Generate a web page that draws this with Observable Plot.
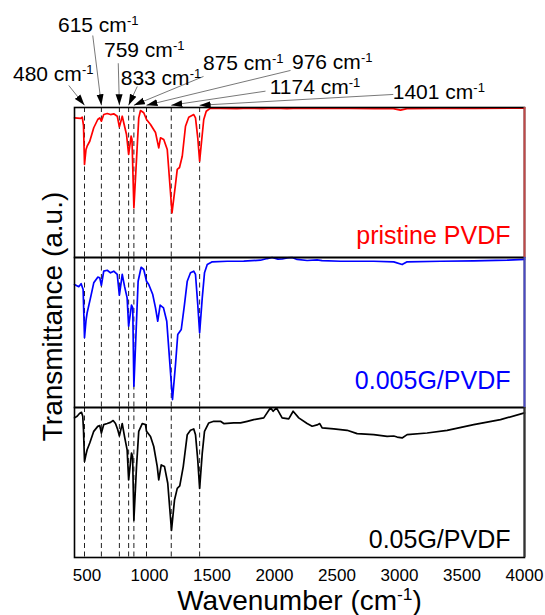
<!DOCTYPE html>
<html><head><meta charset="utf-8">
<script src="https://cdn.jsdelivr.net/npm/d3@7"></script>
<script src="https://cdn.jsdelivr.net/npm/@observablehq/plot@0.6"></script>
<style>
body{margin:0;background:#fff;}
#chart svg{display:block;}
</style>
</head><body><div id="chart"></div>
<script>
// ---------- data ----------
const panels = ["pristine PVDF", "0.005G/PVDF", "0.05G/PVDF"];
const seriesColors = ["#ff0000", "#0000ff", "#000000"];
const edgeColors = ["#c04848", "#4a4ac4", "#333333"];

// [wavenumber (cm-1), transmittance (a.u., % of panel)]
const pristine = [[400,93.1],[448,92.7],[462,93.5],[472,88],[480,62],[492,72],[501,74.2],[522,77.5],[554,86.5],[586,92],[602,93.1],[615,90.9],[634,95.3],[662,96],[688,95.3],[714,95.8],[742,94.2],[759,87.1],[782,94.2],[794,89.8],[816,82],[833,68.7],[853,80.9],[860,78.7],[875,33.1],[896,65.3],[914,93.1],[928,98],[954,96.5],[976,92],[1008,88.7],[1048,83.3],[1074,73.1],[1088,79.8],[1114,78.7],[1142,72],[1180,29.8],[1208,48.7],[1222,58.7],[1240,60],[1262,67.5],[1288,87.5],[1314,93.5],[1354,95.3],[1368,93.1],[1386,79.8],[1401,64.2],[1422,82],[1434,92],[1454,97.5],[1488,99.6],[1568,99.4],[1700,99.3],[1800,99.6],[1900,99.2],[2000,99.5],[2100,99.3],[2200,99.5],[2400,99.4],[2600,99.4],[2800,99.3],[2950,99.2],[3008,98.2],[3060,99.2],[3300,99.4],[3600,99.4],[3900,99.5],[4000,99.6]];
const g005 = [[400,82],[434,80.5],[453,82.5],[469,78.7],[480,46.5],[492,58],[501,63.1],[528,73.1],[554,83.1],[586,86.9],[602,86.5],[615,81.5],[634,90.9],[662,91.5],[688,89.8],[714,90.9],[742,88.7],[759,74.9],[782,88.7],[800,80.9],[821,73.1],[833,54.2],[856,68.2],[866,66.4],[875,14.2],[896,57.5],[909,84.2],[933,93.5],[954,92],[976,84.2],[994,82],[1026,75.3],[1048,66.4],[1066,57.5],[1085,68.2],[1112,66.4],[1138,57.5],[1184,5.3],[1208,28.7],[1226,48.7],[1254,52],[1280,68.7],[1302,84.2],[1328,89.8],[1354,90.9],[1368,88.7],[1386,68.7],[1401,49.8],[1422,73.1],[1440,89.8],[1462,95.3],[1502,97.1],[1622,97.5],[1754,97.6],[1888,98.2],[1941,99.3],[1981,100],[2027,98.9],[2061,99],[2101,99.8],[2141,100],[2181,98.7],[2261,98],[2341,98.4],[2381,97.9],[2528,97.5],[2794,97.5],[2954,97.1],[3021,95.3],[3061,97.1],[3328,97.5],[3594,97.8],[3861,98.2],[4000,98.7]];
const g05 = [[400,93.1],[421,94.2],[440,96],[456,96.8],[466,94.2],[472,85],[480,64],[490,68],[501,71.8],[522,76.3],[554,84.1],[586,87.4],[602,87.9],[615,83],[634,88.6],[662,89.3],[688,90.1],[709,91.3],[728,89.3],[746,85.2],[759,81.2],[782,89.3],[800,80.7],[821,71.8],[833,51.7],[856,69.6],[865,67.3],[875,24.8],[896,60.6],[914,84.1],[942,89.3],[968,88.6],[976,84.1],[1008,80.7],[1034,74],[1062,60.6],[1074,51.7],[1094,61.7],[1120,60.6],[1146,49.5],[1176,18.1],[1200,38.3],[1222,46.1],[1242,47.7],[1270,60.6],[1302,81.9],[1328,84.8],[1354,85.7],[1368,81.9],[1386,65.1],[1401,46.1],[1422,69.6],[1440,84.1],[1474,89.7],[1514,90.8],[1568,90.8],[1594,89.3],[1674,89.7],[1728,89.7],[1782,90.8],[1834,91.9],[1914,93.1],[1968,99.8],[1989,97.5],[2016,99.8],[2061,93.1],[2114,92.4],[2149,97.5],[2194,93.1],[2261,89.3],[2301,87.5],[2341,88.4],[2362,89.3],[2381,86.4],[2474,85.7],[2581,84.8],[2661,82.6],[2794,81.9],[2901,80.7],[2954,81],[2981,80.3],[3021,79.7],[3061,81.9],[3221,83],[3381,84.8],[3594,88.6],[3808,91.9],[4000,96.4]];

const peaks = [480, 615, 759, 833, 875, 976, 1174, 1401];
const peakLabels = ["480 cm-1", "615 cm-1", "759 cm-1", "833 cm-1", "875 cm-1", "976 cm-1", "1174 cm-1", "1401 cm-1"];
const xTicks = [500, 1000, 1500, 2000, 2500, 3000, 3500, 4000];

// annotation layout, in the top panel's data units
const labelX = [-92, 268, 636, 770, 1428, 2140, 1962, 2946];
const labelY = [118, 150.2, 134, 115.1, 124.7, 125.8, 108.7, 105.8];
const arrowFromX = [354, 546, 750, 902, 1432, 2128, 1928, 2950];
const arrowFromY = [114.7, 148, 129.5, 114, 120.7, 124.7, 110.9, 108.7];
const arrowTipY = 101.5;

// ---------- tables ----------
const rows = [];
[pristine, g005, g05].forEach((s, i) => s.forEach(([w, t]) => rows.push({panel: panels[i], w, t})));
const annot = peaks.map((p, i) => ({panel: panels[0], peak: p, label: peakLabels[i],
  lx: labelX[i], ly: labelY[i], sx: arrowFromX[i], sy: arrowFromY[i], ty: arrowTipY}));

const FONT = "'Liberation Sans', Arial, sans-serif";
const labelDy = [-14, -19, -10];

const chart = Plot.plot({
  width: 545, height: 615,
  marginLeft: 74, marginRight: 21, marginTop: 107, marginBottom: 58,
  style: {fontFamily: FONT, fontSize: "17px", background: "#fff", overflow: "visible", color: "#000"},
  x: {domain: [400, 4000], ticks: xTicks, tickSize: 0, tickPadding: 11, tickFormat: d => String(d), label: null},
  y: {domain: [0, 100], axis: null},
  fy: {domain: panels, axis: null, padding: 0},
  marks: [
    Plot.ruleX(peaks, {stroke: "#222", strokeWidth: 1, strokeDasharray: "5,3.5"}),
    ...panels.map((p, i) => Plot.line(rows.filter(r => r.panel === p),
      {x: "w", y: "t", fy: "panel", stroke: seriesColors[i], strokeWidth: 1.7, curve: "linear"})),
    Plot.frame({stroke: "#000", strokeWidth: 1.6}),
    ...panels.map((p, i) => Plot.ruleX([{panel: p}], {x: () => 4000, fy: "panel", stroke: edgeColors[i], strokeWidth: 2})),
    ...panels.map((p, i) => Plot.text([{panel: p}], {fy: "panel", frameAnchor: "bottom-right", text: "panel",
      fill: seriesColors[i], fontSize: 25, textAnchor: "end", lineAnchor: "bottom", dx: -14, dy: labelDy[i]})),
    Plot.link(annot, {x1: "sx", y1: "sy", x2: "peak", y2: "ty", fy: "panel", stroke: "#555", strokeWidth: 0.8, markerEnd: "arrow"}),
    Plot.text(annot, {x: "lx", y: "ly", text: "label", fy: "panel", textAnchor: "start", lineAnchor: "bottom", fontSize: 21, fill: "#000"}),
    Plot.text([{panel: panels[1]}], {fy: "panel", frameAnchor: "left", text: () => "Transmittance (a.u.)", rotate: -90,
      dx: -13, dy: -16, fontSize: 28, textAnchor: "middle", lineAnchor: "bottom", fill: "#000"}),
    Plot.text([{panel: panels[2]}], {fy: "panel", frameAnchor: "bottom", text: () => "Wavenumber (cm-1)",
      dy: 52, fontSize: 28, textAnchor: "middle", lineAnchor: "bottom", fill: "#000"})
  ]
});

// superscript "-1" in cm-1
const SVGNS = "http://www.w3.org/2000/svg";
chart.querySelectorAll("text").forEach(t => {
  if (t.querySelector("tspan")) return;
  const s = t.textContent;
  const i = s.indexOf("cm-1");
  if (i < 0) return;
  const before = s.slice(0, i + 2), after = s.slice(i + 4);
  t.textContent = "";
  t.appendChild(document.createTextNode(before));
  const sup = document.createElementNS(SVGNS, "tspan");
  sup.setAttribute("baseline-shift", "super");
  sup.setAttribute("font-size", "0.62em");
  sup.textContent = "-1";
  t.appendChild(sup);
  if (after) t.appendChild(document.createTextNode(after));
});
// filled triangular arrowheads
chart.querySelectorAll("marker").forEach(m => {
  m.setAttribute("viewBox", "-11 -4 12 8");
  m.setAttribute("markerUnits", "userSpaceOnUse");
  m.setAttribute("markerWidth", "12");
  m.setAttribute("markerHeight", "8");
  m.setAttribute("fill", "#000");
  m.setAttribute("stroke", "none");
  while (m.firstChild) m.removeChild(m.firstChild);
  const path = document.createElementNS(SVGNS, "path");
  path.setAttribute("d", "M-11,-3.5L0,0L-11,3.5Z");
  m.appendChild(path);
});

document.getElementById("chart").appendChild(chart);
</script>
</body></html>
